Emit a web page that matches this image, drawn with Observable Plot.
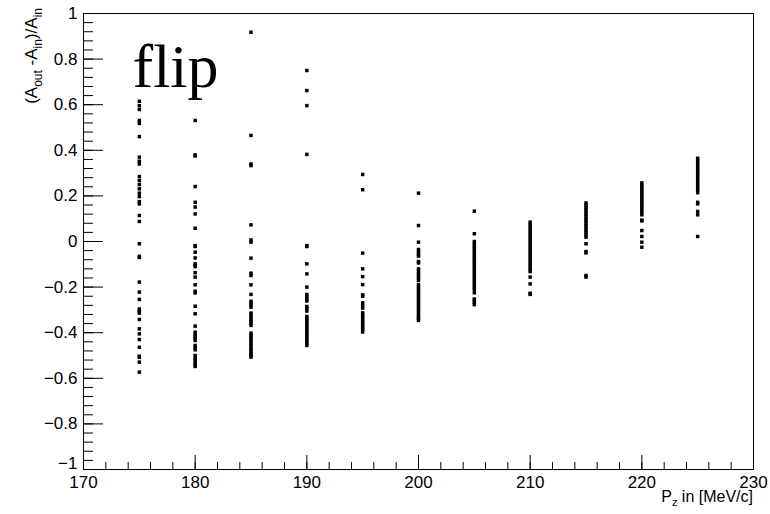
<!DOCTYPE html>
<html><head><meta charset="utf-8">
<script src="https://cdn.jsdelivr.net/npm/d3@7"></script>
<script src="https://cdn.jsdelivr.net/npm/@observablehq/plot@0.6"></script>
<style>body{margin:0;background:#fff;} svg{display:block}</style>
</head><body><div id="chart"></div>
<script>
// P_z values (MeV/c) of the columns
const momenta = [175, 180, 185, 190, 195, 200, 205, 210, 215, 220, 225];

// (A_out - A_in)/A_in values read for each column
const asym175 = [0.615,0.596,0.579,0.531,0.518,0.46,0.37,0.352,0.34,0.285,0.268,0.25,0.231,0.212,0.197,0.175,0.165,0.114,0.088,-0.01,-0.065,-0.07,-0.178,-0.222,-0.254,-0.296,-0.305,-0.314,-0.342,-0.383,-0.405,-0.43,-0.464,-0.503,-0.508,-0.529,-0.573];
const asym180 = [0.531,0.38,0.375,0.241,0.172,0.151,0.121,0.058,-0.018,-0.022,-0.047,-0.072,-0.098,-0.104,-0.11,-0.137,-0.156,-0.19,-0.218,-0.226,-0.284,-0.317,-0.371,-0.398,-0.407,-0.416,-0.425,-0.434,-0.456,-0.465,-0.475,-0.5,-0.51,-0.52,-0.53,-0.54,-0.548];
const asym185 = [0.918,0.465,0.34,0.333,0.073,0.007,-0.003,-0.073,-0.139,-0.149,-0.19,-0.232,-0.262,-0.27,-0.278,-0.288,-0.314,-0.323,-0.332,-0.341,-0.35,-0.359,-0.368,-0.402,-0.411,-0.42,-0.429,-0.438,-0.447,-0.456,-0.465,-0.474,-0.483,-0.492,-0.5,-0.507];
const asym190 = [0.75,0.662,0.596,0.382,-0.018,-0.022,-0.098,-0.142,-0.2,-0.232,-0.242,-0.252,-0.261,-0.285,-0.295,-0.305,-0.329,-0.338,-0.347,-0.356,-0.365,-0.374,-0.383,-0.392,-0.401,-0.41,-0.419,-0.428,-0.437,-0.446,-0.456];
const asym195 = [0.294,0.227,-0.051,-0.12,-0.154,-0.189,-0.234,-0.24,-0.269,-0.28,-0.292,-0.313,-0.322,-0.331,-0.34,-0.349,-0.358,-0.367,-0.376,-0.385,-0.397];
const asym200 = [0.212,0.07,-0.003,-0.035,-0.045,-0.055,-0.064,-0.088,-0.094,-0.12,-0.13,-0.14,-0.15,-0.16,-0.171,-0.19,-0.2,-0.21,-0.22,-0.23,-0.24,-0.25,-0.26,-0.27,-0.28,-0.29,-0.3,-0.31,-0.32,-0.33,-0.338,-0.346];
const asym205 = [0.133,0.034,0,-0.01,-0.02,-0.03,-0.04,-0.05,-0.06,-0.07,-0.08,-0.09,-0.1,-0.11,-0.12,-0.13,-0.14,-0.15,-0.16,-0.17,-0.18,-0.19,-0.2,-0.21,-0.225,-0.252,-0.26,-0.268,-0.277];
const asym210 = [0.085,0.075,0.065,0.055,0.045,0.035,0.025,0.015,0.005,-0.005,-0.015,-0.025,-0.035,-0.045,-0.055,-0.065,-0.075,-0.085,-0.095,-0.105,-0.115,-0.124,-0.132,-0.156,-0.186,-0.227,-0.232];
const asym215 = [0.169,0.159,0.149,0.139,0.129,0.119,0.109,0.099,0.089,0.079,0.069,0.059,0.049,0.039,0.029,0.019,-0.01,-0.044,-0.05,-0.149,-0.156];
const asym220 = [0.257,0.247,0.237,0.227,0.217,0.207,0.197,0.187,0.177,0.167,0.157,0.147,0.137,0.127,0.117,0.094,0.09,0.048,0.022,-0.003,-0.025];
const asym225 = [0.365,0.355,0.345,0.335,0.325,0.315,0.305,0.295,0.285,0.275,0.265,0.255,0.245,0.235,0.224,0.214,0.172,0.165,0.132,0.117,0.022];

const columns = [asym175, asym180, asym185, asym190, asym195, asym200, asym205, asym210, asym215, asym220, asym225];
const points = momenta.flatMap((p, i) => columns[i].map(v => ({pz: p, asym: v})));

// Axis ticks and labels
const xMajor = [170, 180, 190, 200, 210, 220, 230];
const xLabels = ["170", "180", "190", "200", "210", "220", "230"];
const yMajor = [-0.8, -0.6, -0.4, -0.2, 0, 0.2, 0.4, 0.6, 0.8, 1];
const yLabels = ["\u22120.8", "\u22120.6", "\u22120.4", "\u22120.2", "0", "0.2", "0.4", "0.6", "0.8", "1"];
const yBottom = [-1];
const yBottomLabel = "\u22121";
const xMinor = d3.range(170, 230.001, 2);
const yMinor = d3.range(-1, 1.0001, 0.04);

const font = "'Liberation Sans', Arial, Helvetica, sans-serif";

const plot = Plot.plot({
  width: 770, height: 514,
  marginLeft: 83, marginRight: 17, marginTop: 13, marginBottom: 45,
  style: {fontFamily: font, fontSize: "17px", color: "black", background: "white", overflow: "visible"},
  x: {domain: [170, 230], label: null},
  y: {domain: [-1, 1], label: null},
  marks: [
    Plot.frame({stroke: "black", strokeWidth: 1}),
    Plot.axisX({ticks: xMinor, tickSize: -7, tickFormat: () => "", label: null}),
    Plot.axisX({ticks: xMajor, tickSize: -14, tickFormat: () => "", label: null}),
    Plot.axisX({ticks: xMajor, tickSize: 0, tickPadding: 6, tickFormat: d => xLabels[xMajor.indexOf(d)], label: null, fontSize: 17}),
    Plot.axisY({ticks: yMinor, tickSize: -10, tickFormat: () => "", label: null}),
    Plot.axisY({ticks: yMajor.concat(yBottom), tickSize: -20, tickFormat: () => "", label: null}),
    Plot.axisY({ticks: yMajor, tickSize: 0, tickPadding: 6, tickFormat: d => yLabels[yMajor.findIndex(t => Math.abs(t - d) < 1e-9)], label: null, fontSize: 17}),
    Plot.axisY({ticks: yBottom, tickSize: 0, tickPadding: 6, dy: -6, tickFormat: () => yBottomLabel, label: null, fontSize: 17}),
    Plot.dot(points, {x: "pz", y: "asym", symbol: "square", r: 1.95, fill: "black", stroke: "none"}),
    Plot.text(["flip"], {frameAnchor: "top-left", text: d => d, textAnchor: "start", lineAnchor: "top", dx: 49, dy: 29, fontSize: 62, fontFamily: "'Liberation Serif', 'Times New Roman', serif", fill: "black"})
  ]
});

const svg = d3.select(plot);
// x-axis title
const xt = svg.append("text").attr("x", 753).attr("y", 502).attr("text-anchor", "end")
  .attr("font-family", font).attr("font-size", 16).attr("fill", "black");
xt.append("tspan").text("P");
xt.append("tspan").attr("dy", 4).attr("font-size", 11).text("z");
xt.append("tspan").attr("dy", -4).text(" in [MeV/c]");

// y-axis title
const yt = svg.append("text").attr("transform", "translate(37,8) rotate(-90)").attr("text-anchor", "end")
  .attr("font-family", font).attr("font-size", 17).attr("fill", "black");
yt.append("tspan").text("(A");
yt.append("tspan").attr("dy", 5).attr("font-size", 12).text("out");
yt.append("tspan").attr("dy", -5).text(" -A");
yt.append("tspan").attr("dy", 5).attr("font-size", 12).text("in");
yt.append("tspan").attr("dy", -5).text(")/A");
yt.append("tspan").attr("dy", 5).attr("font-size", 12).text("in");

document.getElementById("chart").appendChild(plot);
</script>
</body></html>
